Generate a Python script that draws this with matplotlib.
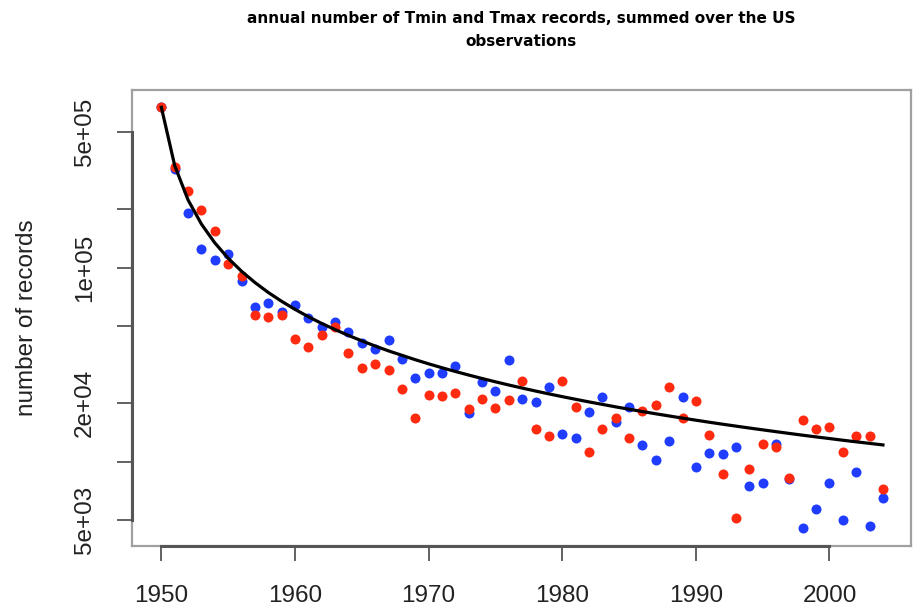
import matplotlib
matplotlib.use("Agg")
import matplotlib.pyplot as plt
import matplotlib.transforms as mtransforms

years = list(range(1950, 2005))

# red points
tmax_records = [
    672000, 330000, 249000, 199000, 155000, 104000, 91000, 56700, 55500, 56700,
    43000, 39100, 44700, 49600, 36400, 30200, 31800, 29600, 23800, 16700,
    22000, 21800, 22500, 18600, 21000, 18800, 20700, 25900, 14800, 13600,
    26100, 19200, 11200, 14800, 16700, 13200, 18300, 19500, 24300, 16700,
    20600, 13700, 8630, 5130, 9160, 12300, 11900, 8200, 16400, 14800,
    15100, 11200, 13600, 13600, 7230,
]

# blue points
tmin_records = [
    672000, 323000, 191000, 125000, 110000, 118000, 85000, 62500, 65900, 59200,
    64500, 54700, 49300, 52400, 46500, 40700, 37900, 42200, 33700, 27100,
    28500, 28500, 31100, 17900, 25700, 23100, 33300, 21100, 20200, 24100,
    13800, 13300, 18100, 21400, 16000, 19200, 12200, 10200, 12700, 21600,
    9350, 11100, 10900, 11900, 7520, 7760, 12300, 8100, 4540, 5710,
    7760, 4970, 8870, 4650, 6480,
]

# black curve (expected number of records)
expected_records = [
    670000, 335000, 223000, 167500, 134000, 111700, 95700, 83750, 74400, 67000,
    60900, 55800, 51500, 47900, 44700, 41900, 39400, 37200, 35300, 33500,
    31900, 30450, 29130, 27920, 26800, 25770, 24810, 23930, 23100, 22330,
    21610, 20940, 20300, 19710, 19140, 18610, 18110, 17630, 17180, 16750,
    16340, 15950, 15580, 15230, 14890, 14570, 14260, 13960, 13670, 13400,
    13140, 12880, 12640, 12410, 12180,
]

x_ticks = [1950, 1960, 1970, 1980, 1990, 2000]
y_ticks = [5e3, 1e4, 2e4, 5e4, 1e5, 2e5, 5e5]
y_tick_labels = ["5e+03", "", "2e+04", "", "1e+05", "", "5e+05"]

plt.rcParams["font.family"] = ["Liberation Sans", "DejaVu Sans"]

fig = plt.figure(figsize=(9.19, 6.06), dpi=100)
ax = fig.add_axes([0.1436, 0.099, 0.8477, 0.7525])

ax.set_yscale("log")
ax.scatter(years, tmin_records, s=52, color="#1f3cff", linewidths=0, zorder=2)
ax.scatter(years, tmax_records, s=52, color="#ff2a10", linewidths=0, zorder=3)
ax.plot(years, expected_records, color="black", lw=2.3, zorder=4)

ax.set_xlim(1947.8, 2006.1)
ax.set_ylim(3670, 823000)

ax.set_xticks(x_ticks)
ax.set_xticklabels([str(x) for x in x_ticks])
ax.set_yticks(y_ticks)
ax.set_yticklabels(y_tick_labels)
ax.yaxis.set_minor_locator(matplotlib.ticker.NullLocator())

ax.tick_params(axis="both", direction="out", length=11, width=1.3,
               color="#555555", labelsize=17.5, labelcolor="#222222")
ax.tick_params(axis="x", pad=17)
ax.tick_params(axis="y", pad=15)
for lab in ax.get_yticklabels():
    lab.set_rotation(90)
    lab.set_va("center")
    lab.set_ha("right")

for sp in ax.spines.values():
    sp.set_color("#a0a0a0")
    sp.set_linewidth(1.6)

# R-style axis lines running from first to last tick
tx = mtransforms.blended_transform_factory(ax.transData, ax.transAxes)
ty = mtransforms.blended_transform_factory(ax.transAxes, ax.transData)
ax.plot([x_ticks[0], x_ticks[-1]], [0, 0], transform=tx, color="#555555",
        lw=2.2, clip_on=False, zorder=5)
ax.plot([0, 0], [y_ticks[0], y_ticks[-1]], transform=ty, color="#555555",
        lw=2.2, clip_on=False, zorder=5)

ax.set_ylabel("number of records", fontsize=17.5, color="#222222", labelpad=26)
fig.suptitle("annual number of Tmin and Tmax records, summed over the US\nobservations",
             x=0.567, y=0.982, fontsize=11, fontweight="bold",
             family="DejaVu Sans", linespacing=1.65)

fig.savefig("out.png", dpi=100)
